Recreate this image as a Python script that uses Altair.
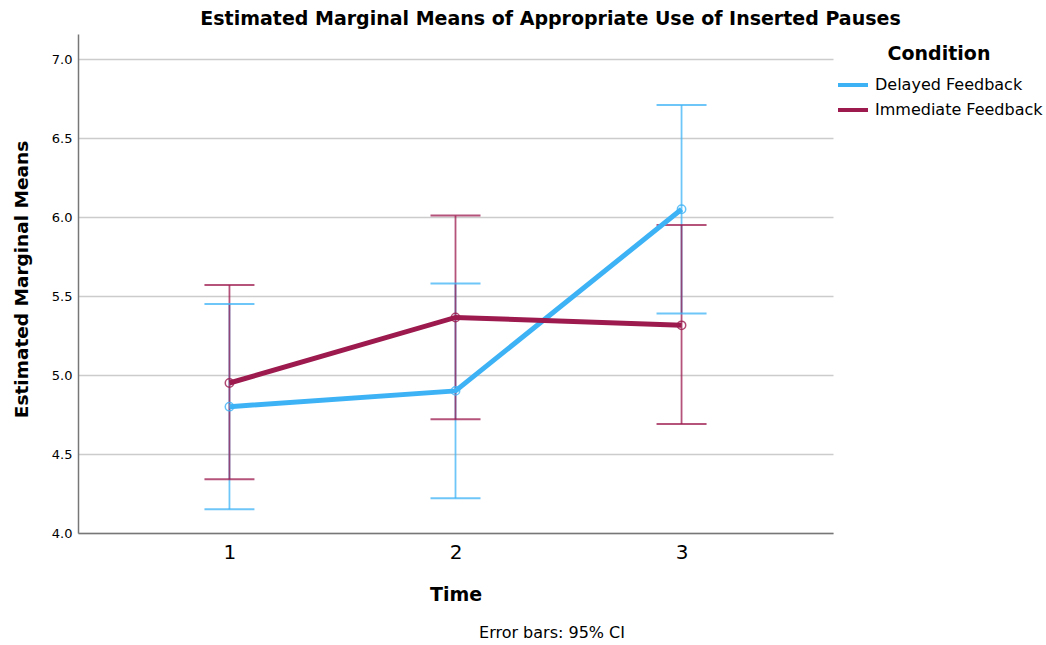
import altair as alt
import pandas as pd

FONT = "DejaVu Sans"

time_points = [1, 2, 3]
conditions = ["Delayed Feedback", "Immediate Feedback"]
delayed_mean = [4.80, 4.90, 6.05]
delayed_lo = [4.15, 4.22, 5.39]
delayed_hi = [5.45, 5.58, 6.71]
immediate_mean = [4.95, 5.365, 5.315]
immediate_lo = [4.34, 4.72, 4.69]
immediate_hi = [5.57, 6.01, 5.95]
y_ticks = [4.0, 4.5, 5.0, 5.5, 6.0, 6.5, 7.0]
colors = ["#3DB3F6", "#9C1A4E"]

rows = []
for cond, means, los, his in [
    (conditions[0], delayed_mean, delayed_lo, delayed_hi),
    (conditions[1], immediate_mean, immediate_lo, immediate_hi),
]:
    for t, m, lo, hi in zip(time_points, means, los, his):
        rows.append({"Time": t, "Condition": cond, "mean": m, "lo": lo, "hi": hi})
df = pd.DataFrame(rows)

legend = alt.Legend(
    title="Condition",
    orient="none",
    legendX=758,
    legendY=11,
    titleFontSize=19,
    titleFont=FONT,
    titleFontWeight="bold",
    titleColor="#000000",
    titleAnchor="middle",
    titleAlign="center",
    titlePadding=4,
    labelFontSize=16,
    labelFont=FONT,
    labelColor="#000000",
    labelOffset=5,
    labelLimit=0,
    rowPadding=-11,
    symbolType="stroke",
    symbolSize=900,
    symbolStrokeWidth=4,
    symbolOpacity=1,
)

color = alt.Color(
    "Condition:N",
    scale=alt.Scale(domain=conditions, range=colors),
    legend=legend,
)

x = alt.X(
    "Time:O",
    scale=alt.Scale(type="point", padding=0.67),
    axis=alt.Axis(
        title="Time",
        labelAngle=0,
        ticks=False,
        grid=False,
        labelFontSize=20,
        labelFont=FONT,
        labelColor="#000000",
        labelPadding=9,
        titleFontSize=19,
        titleFont=FONT,
        titleFontWeight="bold",
        titleColor="#000000",
        titlePadding=23,
        domainColor="#777777",
        domainWidth=1.5,
    ),
)

y_scale = alt.Scale(domain=[4.0, 7.16], nice=False, zero=False)
y_axis = alt.Axis(
    title="Estimated Marginal Means",
    values=y_ticks,
    format=".1f",
    ticks=False,
    grid=True,
    gridColor="#CCCCCC",
    gridWidth=1.5,
    labelFontSize=13,
    labelFont=FONT,
    labelColor="#000000",
    labelPadding=6,
    titleFontSize=18.5,
    titleFont=FONT,
    titleFontWeight="bold",
    titleColor="#000000",
    titlePadding=20,
    titleY=245,
    domainColor="#777777",
    domainWidth=1.5,
)

base = alt.Chart(df)

rules = base.mark_rule(strokeWidth=1.8, opacity=0.75).encode(
    x=x,
    y=alt.Y("lo:Q", scale=y_scale, axis=y_axis),
    y2="hi:Q",
    color=color,
)
caps_lo = base.mark_tick(size=50, thickness=2, opacity=0.75).encode(
    x=x, y=alt.Y("lo:Q", scale=y_scale), color=color
)
caps_hi = base.mark_tick(size=50, thickness=2, opacity=0.75).encode(
    x=x, y=alt.Y("hi:Q", scale=y_scale), color=color
)
lines = base.mark_line(strokeWidth=5).encode(
    x=x, y=alt.Y("mean:Q", scale=y_scale), color=color
)
points = base.mark_point(filled=False, size=70, strokeWidth=1.5, opacity=0.8).encode(
    x=x, y=alt.Y("mean:Q", scale=y_scale), color=color
)

caption = alt.Chart(pd.DataFrame({"t": ["Error bars: 95% CI"]})).mark_text(
    font=FONT, fontSize=16, color="#000000", align="center", baseline="middle"
).encode(text="t:N", x=alt.value(474), y=alt.value(599))

chart = (
    alt.layer(rules, caps_lo, caps_hi, lines, points, caption)
    .properties(
        width=755,
        height=499,
        autosize=alt.AutoSizeParams(type="none"),
        padding={"left": 78, "top": 34, "right": 213, "bottom": 112},
        title=alt.TitleParams(
            "Estimated Marginal Means of Appropriate Use of Inserted Pauses",
            font=FONT,
            fontSize=19,
            fontWeight="bold",
            color="#000000",
            anchor="middle",
            offset=5,
            dx=95,
        ),
    )
    .configure(background="#FFFFFF")
    .configure_view(strokeWidth=0, stroke="transparent")
)

chart.save("out.html", embed_options={"renderer": "svg", "actions": False})
